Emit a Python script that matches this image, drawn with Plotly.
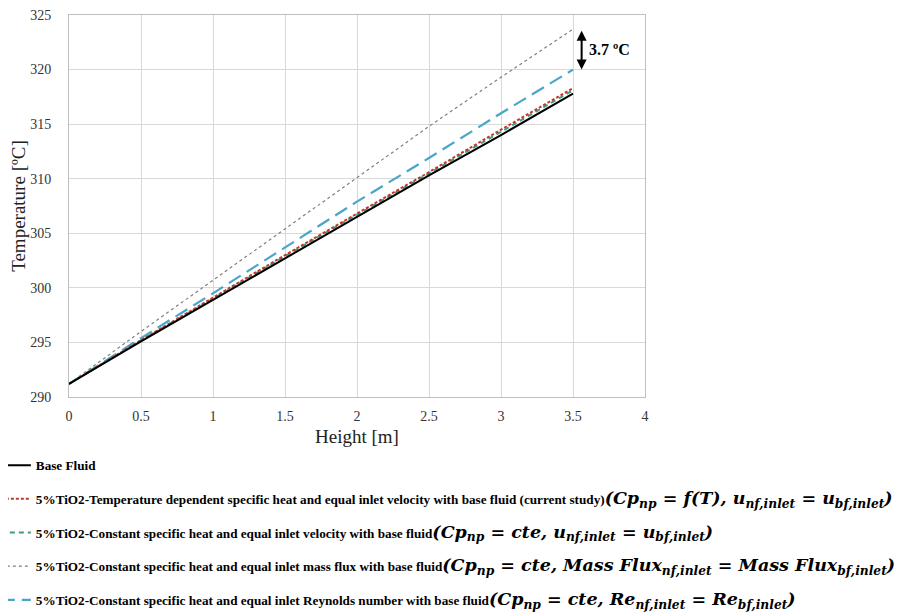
import plotly.graph_objects as go

height_m = [0, 0.5, 1.0, 1.5, 2.0, 2.5, 3.0, 3.5]
base_fluid = [291.2, 295.1, 298.9, 302.7, 306.5, 310.3, 314.0, 317.8]
tio2_temp_dep = [291.2, 295.2, 299.1, 303.0, 306.8, 310.6, 314.5, 318.3]
tio2_const_vel = [291.2, 295.2, 299.0, 302.9, 306.7, 310.5, 314.3, 318.1]
tio2_mass_flux = [291.2, 296.0, 300.7, 305.4, 310.1, 314.8, 319.3, 323.7]
tio2_reynolds = [291.2, 295.4, 299.5, 303.7, 307.9, 311.9, 316.0, 320.0]

x_ticks = [0, 0.5, 1, 1.5, 2, 2.5, 3, 3.5, 4]
y_ticks = [290, 295, 300, 305, 310, 315, 320, 325]

MATH = "font-family:'DejaVu Serif';font-size:17.5px"

def math(s):
    return f"<span style=\"{MATH}\"><b><i>{s}</i></b></span>"

names = [
    "<b>Base Fluid</b>",
    "<b>5%TiO2-Temperature dependent specific heat and equal inlet velocity with base fluid (current study)</b>"
    + math("(Cp<sub>np</sub> = f(T), u<sub>nf,inlet</sub> = u<sub>bf,inlet</sub>)"),
    "<b>5%TiO2-Constant specific heat and equal inlet velocity with base fluid</b>"
    + math("(Cp<sub>np</sub> = cte, u<sub>nf,inlet</sub> = u<sub>bf,inlet</sub>)"),
    "<b>5%TiO2-Constant specific heat and equal inlet mass flux with base fluid</b>"
    + math("(Cp<sub>np</sub> = cte, Mass Flux<sub>nf,inlet</sub> = Mass Flux<sub>bf,inlet</sub>)"),
    "<b>5%TiO2-Constant specific heat and equal inlet Reynolds number with base fluid</b>"
    + math("(Cp<sub>np</sub> = cte, Re<sub>nf,inlet</sub> = Re<sub>bf,inlet</sub>)"),
]
series = [base_fluid, tio2_temp_dep, tio2_const_vel, tio2_mass_flux, tio2_reynolds]
styles = [
    dict(color="#000000", width=2, dash="solid"),
    dict(color="#c0392b", width=2, dash="3px,2px"),
    dict(color="#3f9a85", width=2, dash="5px,4px"),
    dict(color="#7f7f7f", width=1.2, dash="dot"),
    dict(color="#4aa6c8", width=2.2, dash="14px,7px"),
]

fig = go.Figure()
draw_order = [3, 4, 2, 1, 0]
for i in draw_order:
    fig.add_trace(go.Scatter(x=height_m, y=series[i], mode="lines", name=names[i],
                             line=styles[i], legendgroup=f"g{i}", legendrank=i + 1))

ax_x = height_m[-1] + 0.06
fig.add_annotation(x=ax_x, y=tio2_reynolds[-1], ax=ax_x, ay=tio2_mass_flux[-1],
                   xref="x", yref="y", axref="x", ayref="y", text="",
                   showarrow=True, arrowhead=2, arrowside="end+start",
                   arrowsize=1, arrowwidth=2, arrowcolor="black")
fig.add_annotation(x=ax_x + 0.04, y=(tio2_reynolds[-1] + tio2_mass_flux[-1]) / 2,
                   xref="x", yref="y", xanchor="left", yanchor="middle",
                   text=f"<b>{tio2_mass_flux[-1] - tio2_reynolds[-1]:.1f} ºC</b>",
                   showarrow=False,
                   font=dict(family="Liberation Serif", size=16, color="black"))

fig.update_layout(
    width=895, height=607,
    margin=dict(l=61, r=258, t=7, b=218, autoexpand=False),
    paper_bgcolor="white", plot_bgcolor="white",
    font=dict(family="Liberation Serif", color="#000000"),
    showlegend=True,
    legend=dict(x=-0.127, xanchor="left", y=-0.139, yanchor="top",
                orientation="v", traceorder="grouped", tracegroupgap=13.5,
                font=dict(family="Liberation Serif", size=13.2, color="black"),
                bgcolor="rgba(0,0,0,0)", itemwidth=30),
)
fig.update_xaxes(range=[0, 4], tickvals=x_ticks, showgrid=True, gridcolor="#d9d9d9",
                 gridwidth=1, showline=True, linecolor="#bfbfbf", mirror=True,
                 zeroline=False, ticks="", ticklabelstandoff=6,
                 tickfont=dict(family="Liberation Serif", size=14, color="#333333"),
                 title=dict(text="Height [m]", standoff=6,
                            font=dict(family="Liberation Serif", size=19, color="#222222")))
fig.update_yaxes(range=[290, 325], tickvals=y_ticks, showgrid=True, gridcolor="#d9d9d9",
                 gridwidth=1, showline=True, linecolor="#bfbfbf", mirror=True,
                 zeroline=False, ticks="", ticklabelstandoff=14, ticklabeloverflow="allow",
                 tickfont=dict(family="Liberation Serif", size=14, color="#333333"),
                 title=dict(text="Temperature [ºC]", standoff=0,
                            font=dict(family="Liberation Serif", size=19, color="#222222")))

fig.write_html("out.html")
